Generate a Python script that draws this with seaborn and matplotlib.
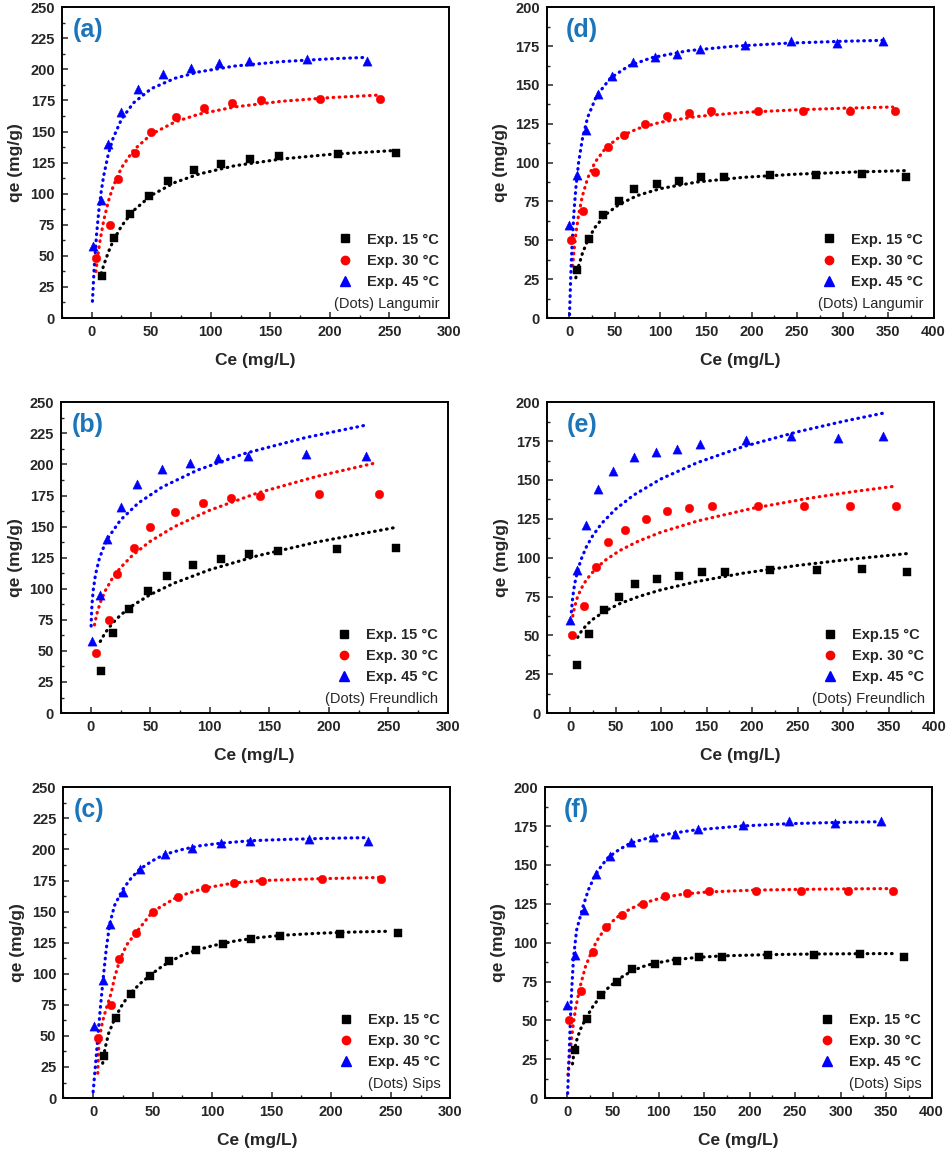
import matplotlib
matplotlib.use("Agg")
import matplotlib.pyplot as plt
import seaborn as sns
from matplotlib.lines import Line2D
from matplotlib.ticker import MultipleLocator

# %% Experimental points, left column (a, b, c)
L_ce15 = [9, 19, 32, 48, 64, 86, 109, 133, 157, 207, 256]
L_qe15 = [34, 64, 84, 98, 110, 119, 124, 128, 130, 132, 133]
L_ce30 = [4, 15, 22, 36, 50, 71, 94, 118, 142, 192, 242]
L_qe30 = [48, 75, 112, 133, 150, 162, 169, 173, 175, 176, 176]
L_ce45 = [1, 8, 14, 25, 39, 60, 83, 107, 132, 181, 231]
L_qe45 = [58, 95, 140, 166, 184, 196, 201, 205, 207, 208, 207]

# %% Experimental points, right column (d, e, f)
R_ce15 = [8, 21, 37, 54, 71, 96, 120, 145, 170, 220, 271, 321, 370]
R_qe15 = [31, 51, 66, 75, 83, 86, 88, 91, 91, 92, 92, 93, 91]
R_ce30 = [2, 15, 28, 42, 60, 83, 107, 131, 156, 207, 257, 308, 358]
R_qe30 = [50, 69, 94, 110, 118, 125, 130, 132, 133, 133, 133, 133, 133]
R_ce45 = [0, 8, 18, 31, 47, 70, 94, 118, 143, 193, 243, 294, 344]
R_qe45 = [60, 92, 121, 144, 156, 165, 168, 170, 173, 176, 178, 177, 178]

# %% Fitted curves
# (a) Langmuir
a_ce15 = [8, 10, 14, 18, 25, 35, 50, 70, 90, 120, 160, 200, 255]
a_qe15 = [35.9, 42.3, 53.1, 62.0, 74.0, 86.3, 98.7, 109.1, 115.8, 122.5, 128.0, 131.6, 134.8]
a_ce30 = [3.5, 5, 7, 10, 14, 18, 25, 35, 50, 70, 90, 120, 160, 200, 242]
a_qe30 = [37.4, 49.3, 62.5, 78.2, 94.0, 105.9, 120.9, 134.9, 147.8, 157.8, 164.0, 169.8, 174.4, 177.3, 179.4]
a_ce45 = [0.6, 2, 4, 6, 8, 10, 14, 18, 25, 35, 50, 70, 90, 120, 160, 200, 231]
a_qe45 = [13.5, 39.3, 66.6, 86.7, 102.0, 114.2, 132.2, 144.8, 159.9, 173.0, 184.5, 192.9, 198.0, 202.7, 206.3, 208.5, 209.7]

# (b) Freundlich
b_ce15 = [8, 12, 18, 25, 35, 50, 70, 100, 140, 190, 256]
b_qe15 = [57.6, 64.4, 72.0, 78.8, 86.4, 95.3, 104.5, 115.3, 126.5, 137.6, 149.3]
b_ce30 = [3.1, 5, 8, 12, 18, 25, 35, 50, 70, 100, 140, 190, 241]
b_qe30 = [70.9, 79.5, 89.0, 98.1, 108.2, 117.0, 126.9, 138.2, 149.8, 163.2, 177.0, 190.4, 201.6]
b_ce45 = [0.3, 0.6, 1, 2, 4, 7, 10, 15, 25, 40, 60, 90, 130, 180, 233]
b_qe45 = [70.0, 79.4, 87.0, 98.6, 111.6, 123.5, 131.7, 141.6, 155.3, 169.0, 181.8, 195.6, 209.0, 221.5, 232.0]

# (c) Sips
c_ce15 = [8, 10, 13, 18.6, 25, 32, 40, 47, 55, 63, 75, 85, 100, 120, 140, 160, 190, 220, 250]
c_qe15 = [28, 40, 52, 65, 76, 85, 92.5, 98, 104, 109, 115, 118.5, 122.5, 126.5, 129.2, 131, 132.6, 133.6, 134.2]
c_ce30 = [3.9, 4.5, 5.5, 8, 11, 15, 18, 22.4, 28, 36, 50, 71, 94, 118, 142, 192, 242]
c_qe30 = [20, 38, 50, 62, 72, 84, 97, 111, 123, 133, 150, 162, 169, 173, 175, 176.5, 177.5]
c_ce45 = [0, 2, 4, 6, 8.3, 11, 13.9, 18, 25, 32, 39, 50, 60, 75, 90, 107, 132, 160, 200, 231]
c_qe45 = [5, 27, 50, 72, 95, 120, 140, 155, 168, 177, 184, 191, 196, 200, 203, 205, 207, 208, 209, 209.5]

# (d) Langmuir
d_ce15 = [7, 10, 14, 20, 28, 40, 55, 75, 100, 140, 190, 250, 310, 372]
d_qe15 = [25.9, 33.3, 41.2, 50.0, 58.3, 66.7, 73.3, 78.9, 83.3, 87.5, 90.5, 92.6, 93.9, 94.9]
d_ce30 = [3.5, 5, 7, 10, 14, 20, 28, 40, 55, 75, 100, 140, 190, 250, 300, 355]
d_qe30 = [33.5, 43.4, 54.1, 66.3, 78.1, 90.0, 100.2, 109.6, 116.5, 121.9, 126.0, 129.7, 132.3, 134.0, 135.0, 135.8]
d_ce45 = [0.1, 1, 2, 3, 5, 7, 10, 14, 20, 30, 45, 65, 90, 130, 180, 240, 300, 344]
d_qe45 = [2.2, 19.6, 35.4, 48.4, 68.6, 83.5, 99.8, 114.7, 129.2, 143.2, 154.4, 162.2, 167.5, 172.0, 174.9, 176.9, 178.1, 178.7]

# (e) Freundlich
e_ce15 = [8.4, 12, 18, 25, 38, 55, 75, 100, 140, 190, 250, 310, 370]
e_qe15 = [48.7, 52.2, 56.6, 60.3, 65.5, 70.5, 74.9, 79.3, 84.7, 90.0, 95.0, 99.1, 102.6]
e_ce30 = [3, 5, 8, 12, 18, 28.9, 40, 55, 75, 100, 140, 200, 260, 310, 357]
e_qe30 = [62.4, 68.3, 74.3, 79.8, 85.8, 93.4, 98.9, 104.7, 110.6, 116.4, 123.6, 131.7, 138.0, 142.4, 146.0]
e_ce45 = [1.5, 3, 5, 8, 12, 18, 25, 35, 50, 70, 100, 140, 190, 250, 300, 344]
e_qe45 = [65.1, 74.7, 82.8, 90.9, 98.6, 107.0, 114.2, 122.2, 131.2, 140.3, 150.7, 161.2, 171.4, 181.0, 187.7, 193.0]

# (f) Sips
f_ce15 = [5.5, 7.3, 10, 14, 20.9, 28, 35.6, 44, 52, 60, 70, 82, 94, 117, 142, 170, 220, 270, 320, 362]
f_qe15 = [22, 30, 37, 44, 52, 59, 65, 70.5, 74.5, 78, 81.5, 84.5, 86.5, 89, 90.5, 91.5, 92.3, 92.7, 92.9, 93]
f_ce30 = [0.5, 2, 4, 6, 9, 14, 20, 25.7, 32, 40, 50, 58, 70, 81, 104, 128, 153, 204, 254, 304, 354]
f_qe30 = [15, 25, 36, 46, 58, 72, 85, 93, 101, 108, 114, 118, 122, 125, 129, 131.3, 132.6, 133.8, 134.3, 134.6, 134.8]
f_ce45 = [0.2, 1, 2, 3, 4.5, 6.6, 10, 16.9, 23, 30, 38, 45, 57, 69, 92, 116, 140, 189, 240, 290, 340]
f_qe45 = [3, 15, 31, 47, 68, 90, 108, 123, 134, 143, 150, 155, 160, 164, 168, 170.5, 172.5, 175, 176.5, 177.3, 177.8]

# %% Styling
sns.set_theme(style="white")
plt.rcParams['font.family'] = ['Liberation Sans', 'DejaVu Sans']

colors = ['black', '#ff0000', '#0000ff']
markers = ['s', 'o', '^']
sizes = [32, 38, 44]
letter_color = '#1b75bb'

fig = plt.figure(figsize=(9.46, 11.51), dpi=100)

W = 0.409
H = 0.270
panels = [
    # letter, rect, exp side, fits, model, 15 label
    ('(a)', [0.0655, 0.7237, W, H], 'L', [(a_ce15, a_qe15), (a_ce30, a_qe30), (a_ce45, a_qe45)], 'Langumir', 'Exp. 15 °C'),
    ('(b)', [0.0645, 0.3805, W, H], 'L', [(b_ce15, b_qe15), (b_ce30, b_qe30), (b_ce45, b_qe45)], 'Freundlich', 'Exp. 15 °C'),
    ('(c)', [0.0670, 0.0460, W, H], 'L', [(c_ce15, c_qe15), (c_ce30, c_qe30), (c_ce45, c_qe45)], 'Sips', 'Exp. 15 °C'),
    ('(d)', [0.5779, 0.7237, W, H], 'R', [(d_ce15, d_qe15), (d_ce30, d_qe30), (d_ce45, d_qe45)], 'Langumir', 'Exp. 15 °C'),
    ('(e)', [0.5785, 0.3805, W, H], 'R', [(e_ce15, e_qe15), (e_ce30, e_qe30), (e_ce45, e_qe45)], 'Freundlich', 'Exp.15 °C'),
    ('(f)', [0.5758, 0.0460, W, H], 'R', [(f_ce15, f_qe15), (f_ce30, f_qe30), (f_ce45, f_qe45)], 'Sips', 'Exp. 15 °C'),
]

exp_data = {
    'L': [(L_ce15, L_qe15), (L_ce30, L_qe30), (L_ce45, L_qe45)],
    'R': [(R_ce15, R_qe15), (R_ce30, R_qe30), (R_ce45, R_qe45)],
}

for letter, rect, side, fits, model, lab15 in panels:
    ax = fig.add_axes(rect)

    for (fx, fy), c in zip(fits, colors):
        sns.lineplot(x=fx, y=fy, ax=ax, color=c, linewidth=2.3,
                     dashes=False, sort=False, estimator=None, zorder=2)
    for ln in ax.get_lines():
        ln.set_dashes((0.2, 1.7))
        ln.set_dash_capstyle('round')
    for (ex, ey), c, m, s in zip(exp_data[side], colors, markers, sizes):
        sns.scatterplot(x=ex, y=ey, ax=ax, color=c, marker=m, s=s,
                        edgecolor=c, linewidth=0.3, zorder=3)

    if side == 'L':
        ax.set_xlim(-25, 300)
        ax.set_ylim(0, 250)
        ax.set_xticks(range(0, 301, 50))
        ax.set_yticks(range(0, 251, 25))
    else:
        ax.set_xlim(-25, 400)
        ax.set_ylim(0, 200)
        ax.set_xticks(range(0, 401, 50))
        ax.set_yticks(range(0, 201, 25))
    ax.xaxis.set_minor_locator(MultipleLocator(25))
    ax.yaxis.set_minor_locator(MultipleLocator(12.5))
    ax.tick_params(which='major', direction='in', length=4.5, width=1.1,
                   labelsize=10.5, pad=5, top=False, right=False, bottom=True, left=True)
    ax.tick_params(which='minor', direction='in', length=2.5, width=1.0,
                   top=False, right=False, bottom=True, left=True)
    for lbl in ax.get_xticklabels() + ax.get_yticklabels():
        lbl.set_fontweight('bold')
    for sp in ax.spines.values():
        sp.set_linewidth(1.4)
        sp.set_color('black')

    ax.set_xlabel('Ce (mg/L)', fontsize=12.5, fontweight='bold', labelpad=10)
    ax.set_ylabel('qe (mg/g)', fontsize=12.5, fontweight='bold', labelpad=5)

    lx = 0.028 if side == 'L' else 0.05
    ax.text(lx, 0.965, letter, transform=ax.transAxes, ha='left', va='top',
            fontsize=18, fontweight='bold', color=letter_color)

    handles = [Line2D([], [], linestyle='none', marker=m, color=c, markersize=ms)
               for m, c, ms in zip(markers, colors, [5.5, 6, 6.5])]
    labels = [lab15, 'Exp. 30 °C', 'Exp. 45 °C']
    ax.legend(handles, labels, loc='lower right', bbox_to_anchor=(1.0, 0.06),
              frameon=False, handlelength=0.8, handletextpad=1.1,
              labelspacing=0.5, borderaxespad=0.3,
              prop={'size': 10.5, 'weight': 'bold'})
    ax.text(0.975, 0.045, '(Dots) ' + model, transform=ax.transAxes,
            ha='right', va='center', fontsize=10.5)

fig.savefig('out.png', dpi=100)
